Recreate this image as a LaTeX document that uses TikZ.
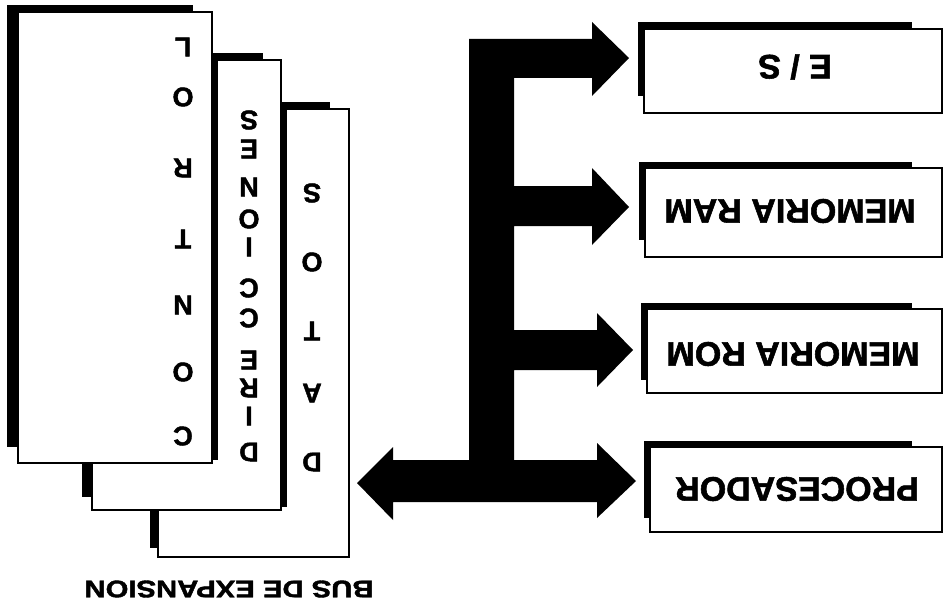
\documentclass[tikz,border=0pt]{standalone}
\usepackage{fontspec}
\setmainfont{Liberation Sans}[BoldFeatures={FakeBold=1.6}]
\begin{document}
\begin{tikzpicture}[x=1pt,y=-1pt,
  card/.style={draw=black, fill=white, line width=2pt},
  shadowfill/.style={fill=black},
  boxlab/.style={font=\fontsize{34}{34}\selectfont\bfseries, rotate=180, inner sep=0pt},
  cardlet/.style={font=\fontsize{27}{27}\selectfont\bfseries, rotate=180, inner sep=0pt},
  buslab/.style={font=\fontsize{24}{24}\selectfont\bfseries, rotate=180, xscale=1.22, inner sep=0pt},
  thickedge/.style={line width=6pt}]
\clip (0,0) rectangle (944,607);
\fill[white] (0,0) rectangle (944,607);

% ---------- stacked cards ----------
% card 3 (DATOS)
\fill[shadowfill] (150,102) rectangle (330,548);
\draw[card] (158,109) rectangle (349,557);
% card 2 (DIRECCIONES)
\fill[shadowfill] (82,53) rectangle (263,497);
\draw[card] (92,60) rectangle (281,510);
\draw[thickedge] (284,103) -- (284,507);
% card 1 (CONTROL)
\fill[shadowfill] (7,5) rectangle (193,447);
\draw[card] (18,12) rectangle (212,463);
\draw[thickedge] (215,54) -- (215,460);

\foreach \l/\y [count=\i] in {L/47,O/97,R/168,T/239,N/305,O/372,C/436}
  \node[cardlet] (ca\i) at (183,\y) {\l};
\foreach \l/\y [count=\i] in {S/120,E/149,N/187,O/219,I/247,C/288,C/318,E/360,R/388,I/416,D/452}
  \node[cardlet] (cb\i) at (249,\y) {\l};
\foreach \l/\y [count=\i] in {S/193,O/262,T/331,A/393,D/462}
  \node[cardlet] (cc\i) at (312,\y) {\l};

\node[buslab] (bus) at (229,589) {BUS DE EXPANSION};

% ---------- boxes ----------
\fill[shadowfill] (638,22) rectangle (912,96);
\draw[card] (644,29) rectangle (942,113);
\node[boxlab] (es) at (795,67) {E / S};

\fill[shadowfill] (639,162) rectangle (912,240);
\draw[card] (645,168) rectangle (942,257);
\node[boxlab] (ram) at (790,211) {MEMORIA RAM};

\fill[shadowfill] (641,303) rectangle (912,380);
\draw[card] (647,309) rectangle (942,393);
\node[boxlab] (rom) at (793,354) {MEMORIA ROM};

\fill[shadowfill] (644,441) rectangle (912,518);
\draw[card] (650,447) rectangle (942,532);
\node[boxlab] (proc) at (797,489) {PROCESADOR};

% ---------- bus arrows ----------
\fill[black] (469,39) -- (592,39) -- (592,22) -- (629,58) -- (592,96) -- (592,78)
  -- (514,78) -- (514,186) -- (592,186) -- (592,168) -- (629,207) -- (592,245) -- (592,226)
  -- (514,226) -- (514,330) -- (597,330) -- (597,313) -- (633,350) -- (597,387) -- (597,370)
  -- (514,370) -- (514,460) -- (597,460) -- (597,443) -- (636,481) -- (597,518) -- (597,502)
  -- (393,502) -- (393,520) -- (357,483) -- (393,447) -- (393,460) -- (469,460) -- cycle;
\end{tikzpicture}
\end{document}
